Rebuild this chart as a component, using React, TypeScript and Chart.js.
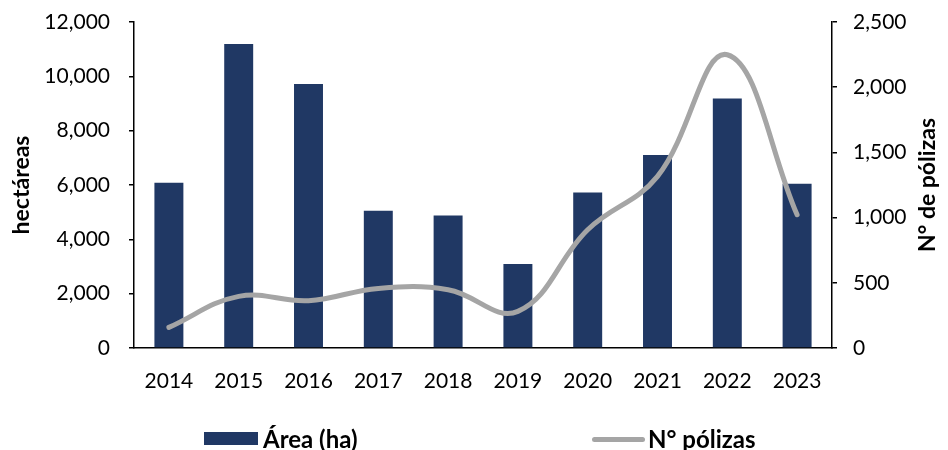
import React, { useEffect, useRef } from "react";
import { Chart, registerables } from "chart.js";

Chart.register(...registerables);

const years = ["2014", "2015", "2016", "2017", "2018", "2019", "2020", "2021", "2022", "2023"];
const areaHa = [6085, 11190, 9718, 5054, 4881, 3092, 5728, 7104, 9188, 6048];
const polizas = [158, 396, 363, 457, 447, 281, 907, 1316, 2249, 1022];
const areaLabel = "Área (ha)";
const polizasLabel = "N° pólizas";
const leftTitle = "hectáreas";
const rightTitle = "N° de pólizas";

const BAR_COLOR = "#203864";
const LINE_COLOR = "#A5A5A5";
const FONT = "Lato";
const TICK_SIZE = 21;
const TITLE_SIZE = 23;

const fmt = (v: number) => Number(v).toLocaleString("en-US");

export default function App() {
  const ref = useRef<HTMLCanvasElement | null>(null);

  useEffect(() => {
    if (!ref.current) return;
    const rightTitlePlugin = {
      id: "rightTitle",
      afterDraw(chart: any) {
        const { ctx, chartArea } = chart;
        ctx.save();
        ctx.translate(chart.width - 20, (chartArea.top + chartArea.bottom) / 2);
        ctx.rotate(-Math.PI / 2);
        ctx.font = `bold ${TITLE_SIZE}px ${FONT}`;
        ctx.fillStyle = "#000";
        ctx.textAlign = "center";
        ctx.textBaseline = "middle";
        ctx.fillText(rightTitle, 0, 0);
        ctx.restore();
      },
    };
    const fitY = (w: number) => (s: any) => {
      s.width = w;
      s.paddingTop = 0;
      s.paddingBottom = 0;
    };
    const chart = new Chart(ref.current, {
      type: "bar",
      data: {
        labels: years,
        datasets: [
          {
            type: "line",
            label: polizasLabel,
            data: polizas,
            yAxisID: "y1",
            borderColor: LINE_COLOR,
            backgroundColor: LINE_COLOR,
            borderWidth: 5,
            pointRadius: 0,
            tension: 0.4,
            borderCapStyle: "round",
            order: 0,
          } as any,
          {
            type: "bar",
            label: areaLabel,
            data: areaHa,
            yAxisID: "y",
            backgroundColor: BAR_COLOR,
            categoryPercentage: 1,
            barPercentage: 0.415,
            order: 1,
          } as any,
        ],
      },
      options: {
        responsive: false,
        animation: false,
        layout: { padding: { top: 22, left: 0, right: 0, bottom: 0 } },
        plugins: { legend: { display: false }, tooltip: { enabled: false } },
        scales: {
          x: {
            grid: { display: false },
            border: { display: true, color: "#000", width: 1.5 },
            ticks: { color: "#000", font: { family: FONT, size: TICK_SIZE }, padding: 13, maxRotation: 0 },
            afterFit: (s: any) => { s.height = 102; },
          },
          y: {
            position: "left",
            min: 0,
            max: 12000,
            ticks: { stepSize: 2000, color: "#000", font: { family: FONT, size: TICK_SIZE }, padding: 19, callback: (v: any) => fmt(v) },
            grid: { display: true, drawOnChartArea: false, drawTicks: true, tickLength: 5, color: "#000", lineWidth: 1.5 },
            border: { display: true, color: "#000", width: 1.5 },
            title: { display: true, text: leftTitle, color: "#000", font: { family: FONT, size: TITLE_SIZE, weight: "bold" }, padding: { top: 8, bottom: 0 } },
            afterFit: fitY(134),
          },
          y1: {
            position: "right",
            min: 0,
            max: 2500,
            ticks: { stepSize: 500, color: "#000", font: { family: FONT, size: TICK_SIZE }, padding: 16, callback: (v: any) => fmt(v) },
            grid: { display: true, drawOnChartArea: false, drawTicks: true, tickLength: 5, color: "#000", lineWidth: 1.5 },
            border: { display: true, color: "#000", width: 1.5 },
            afterFit: fitY(116),
          },
        },
      } as any,
      plugins: [rightTitlePlugin],
    });
    return () => chart.destroy();
  }, []);

  const legendText: React.CSSProperties = {
    position: "absolute",
    top: 439,
    transform: "translateY(-50%)",
    fontFamily: FONT,
    fontWeight: "bold",
    fontSize: 24,
    color: "#000",
    whiteSpace: "nowrap",
    lineHeight: 1,
  };

  return (
    <div style={{ position: "absolute", left: 0, top: 0, width: 948, height: 450, background: "#fff" }}>
      <canvas ref={ref} width={948} height={450} style={{ width: 948, height: 450, display: "block" }} />
      <div style={{ position: "absolute", left: 204, top: 432, width: 54, height: 13, background: BAR_COLOR }} />
      <div style={{ ...legendText, left: 263 }}>{areaLabel}</div>
      <div style={{ position: "absolute", left: 592, top: 437, width: 53, height: 5, borderRadius: 3, background: LINE_COLOR }} />
      <div style={{ ...legendText, left: 648 }}>{polizasLabel}</div>
    </div>
  );
}
